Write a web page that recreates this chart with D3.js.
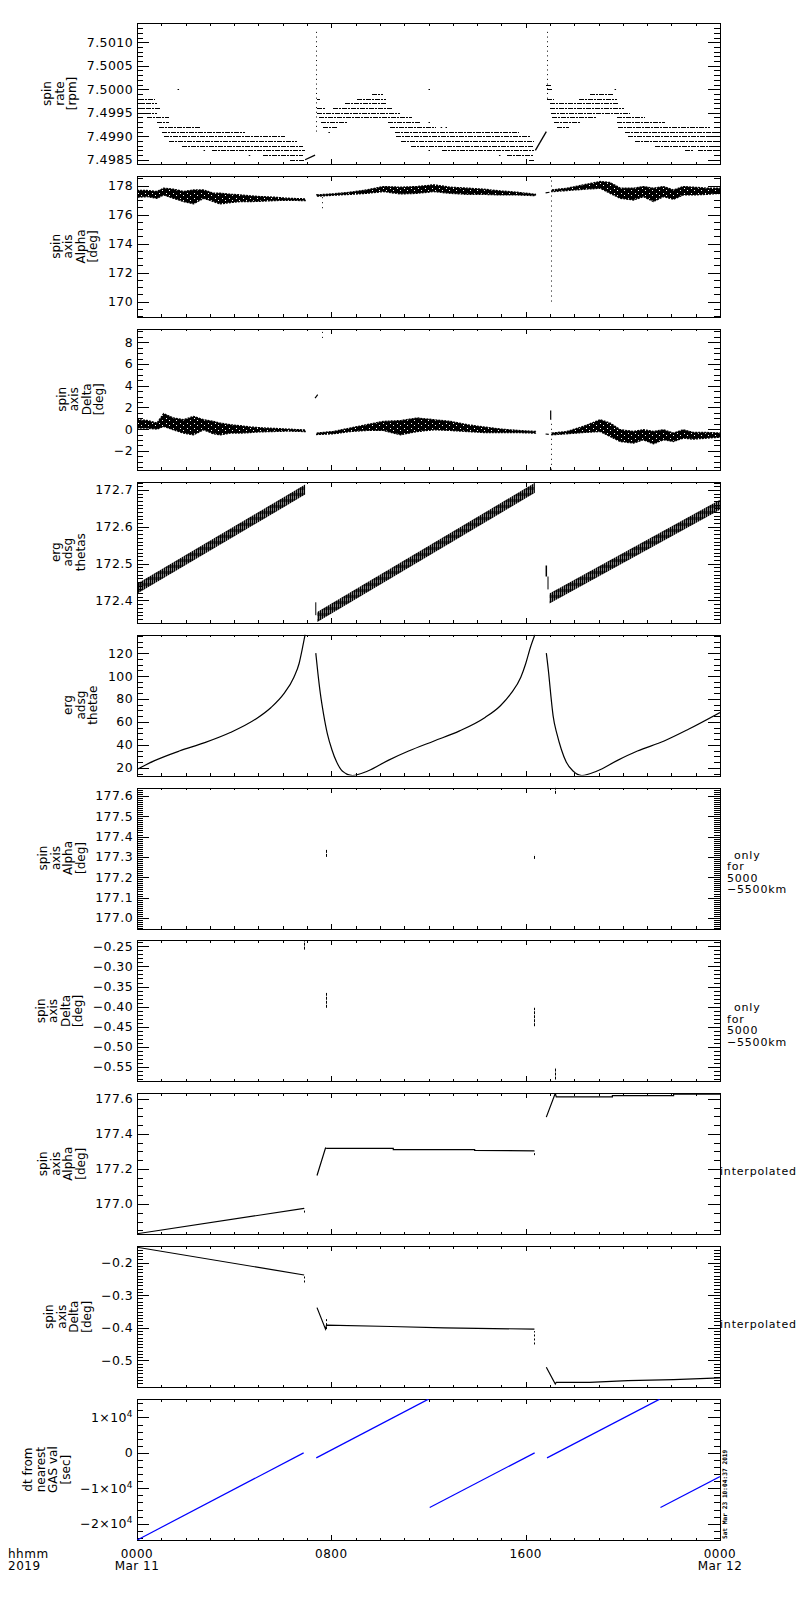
<!DOCTYPE html>
<html>
<head>
<meta charset="utf-8">
<script src="https://cdn.jsdelivr.net/npm/d3@7/dist/d3.min.js"></script>
<style>
    body { margin: 0; background: #fff; }
    svg text { font-family: "DejaVu Sans", sans-serif; fill: #000; }
</style>
</head>
<body>
<div id="chart"></div>
<script>
// hours after 0000 UT, Mar 11 2019
var hourTicks = [0, 8, 16, 24],
    hourLabels = [["0000", "Mar 11"], ["0800"], ["1600"], ["0000", "Mar 12"]];

// ---- panel 1: spin rate [rpm], quantized levels [level, hStart, hEnd]
var rateTicks = [7.4985, 7.4990, 7.4995, 7.5000, 7.5005, 7.5010];
var rateRows = [
    [7.4998, 0.07, 0.75], [7.4997, 0.00, 0.82], [7.4996, 0.00, 0.93], [7.4995, 0.00, 0.82],
    [7.4994, 0.41, 1.30], [7.4993, 0.82, 1.30], [7.4992, 0.89, 2.60], [7.4991, 1.03, 4.45],
    [7.4990, 1.10, 6.10], [7.4989, 1.30, 6.58], [7.4988, 1.85, 6.85], [7.4987, 3.08, 6.92],
    [7.4986, 5.20, 6.85], [7.4985, 6.30, 6.92],
    [7.4999, 9.66, 10.14], [7.4998, 7.40, 7.53], [7.4998, 9.04, 10.27], [7.4997, 8.56, 10.27],
    [7.4996, 7.40, 7.73], [7.4996, 8.08, 10.55], [7.4995, 7.40, 10.82], [7.4994, 7.51, 11.33],
    [7.4993, 7.58, 8.63], [7.4993, 10.34, 11.67], [7.4992, 7.67, 8.22], [7.4992, 10.41, 12.29],
    [7.4991, 10.62, 15.71], [7.4990, 10.68, 16.19], [7.4989, 10.85, 16.33], [7.4988, 11.26, 16.33],
    [7.4987, 12.56, 16.33], [7.4986, 15.23, 16.33], [7.4985, 16.12, 16.33],
    [7.5001, 16.85, 17.08], [7.5000, 16.88, 17.08], [7.4999, 18.66, 19.62], [7.4998, 16.88, 17.15],
    [7.4998, 18.18, 19.75], [7.4997, 16.99, 19.82], [7.4996, 16.99, 20.03], [7.4995, 17.06, 20.30],
    [7.4994, 17.08, 18.93], [7.4994, 19.75, 20.92], [7.4993, 17.15, 18.25], [7.4993, 19.75, 21.74],
    [7.4992, 17.29, 17.77], [7.4992, 19.82, 23.59], [7.4991, 20.10, 24.00], [7.4990, 20.23, 24.00],
    [7.4989, 20.51, 24.00], [7.4988, 21.33, 24.00], [7.4987, 22.56, 22.90], [7.4987, 23.11, 24.00]
];
var rateDots = [[1.67, 7.5000], [12.0, 7.5000], [19.66, 7.5000], [2.74, 7.4987], [4.6, 7.4986],
    [7.88, 7.4991], [12.0, 7.4987], [12.0, 7.4993], [14.9, 7.4986], [12.5, 7.4992], [12.7, 7.4992]];
var rateSpikes = [[7.37, 7.4991, 7.5013], [16.88, 7.4998, 7.5013]];
var rateRamps = [[[6.92, 7.4985], [7.33, 7.4986]], [[16.40, 7.4987], [16.85, 7.4991]]];

// ---- panel 2: spin axis alpha [deg], band [h, lo, hi]
var alphaTicks = [170, 172, 174, 176, 178];
var alphaBands = [
    [[0, 177.20, 177.66], [0.41, 177.24, 177.66], [0.82, 177.13, 177.59], [1.10, 177.36, 177.82],
     [1.50, 177.13, 177.75], [1.92, 176.90, 177.59], [2.33, 176.74, 177.70], [2.74, 177.13, 177.70],
     [3.15, 176.90, 177.47], [3.42, 176.74, 177.47], [3.84, 176.83, 177.40], [4.25, 176.90, 177.36],
     [4.66, 176.90, 177.29], [5.07, 176.92, 177.24], [5.62, 176.97, 177.20], [6.16, 176.99, 177.13],
     [6.92, 176.97, 177.08]],
    [[7.40, 177.27, 177.36], [8.08, 177.34, 177.43], [8.77, 177.40, 177.54], [9.45, 177.47, 177.70],
     [10.14, 177.59, 177.93], [10.85, 177.43, 177.89], [11.53, 177.47, 177.93], [12.22, 177.59, 178.05],
     [12.90, 177.47, 177.89], [13.60, 177.40, 177.82], [14.27, 177.40, 177.75], [14.96, 177.36, 177.63],
     [15.64, 177.36, 177.54], [16.40, 177.31, 177.40]],
    [[17.08, 177.59, 177.70], [17.70, 177.66, 177.82], [18.38, 177.75, 178.05], [19.07, 177.82, 178.28],
     [19.48, 177.47, 178.21], [19.89, 177.13, 177.82], [20.44, 177.01, 177.82], [20.85, 177.24, 177.93],
     [21.26, 176.90, 177.82], [21.67, 177.24, 177.93], [22.08, 177.06, 177.70], [22.49, 177.36, 177.93],
     [22.90, 177.36, 177.89], [23.45, 177.40, 177.82], [24.00, 177.47, 177.82]]
];
var alphaSpikes = [[7.60, 176.44, 177.36], [17.05, 170.0, 178.62]];
var alphaDashes = [[[16.82, 177.50], [16.98, 177.54]]];

// ---- panel 3: spin axis delta [deg]
var deltaTicks = [-2, 0, 2, 4, 6, 8];
var deltaBands = [
    [[0, 0.09, 0.86], [0.41, 0.09, 0.80], [0.82, 0.00, 0.55], [1.10, 0.25, 1.42], [1.50, -0.06, 1.02],
     [1.92, -0.37, 0.86], [2.33, -0.52, 1.17], [2.74, -0.06, 0.86], [3.15, -0.43, 0.71], [3.42, -0.52, 0.55],
     [3.84, -0.37, 0.40], [4.25, -0.37, 0.31], [4.66, -0.31, 0.19], [5.07, -0.25, 0.12], [5.62, -0.22, 0.06],
     [6.16, -0.18, 0.00], [6.92, -0.22, -0.09]],
    [[7.40, -0.49, -0.37], [8.08, -0.43, -0.22], [8.77, -0.22, 0.09], [9.45, -0.12, 0.40], [10.14, -0.12, 0.71],
     [10.85, -0.52, 0.78], [11.53, -0.22, 1.02], [12.22, -0.06, 0.86], [12.90, -0.12, 0.71], [13.60, -0.22, 0.40],
     [14.27, -0.31, 0.19], [14.96, -0.31, 0.00], [15.64, -0.31, -0.12], [16.40, -0.37, -0.22]],
    [[17.08, -0.52, -0.37], [17.70, -0.43, -0.22], [18.38, -0.31, 0.25], [19.07, -0.22, 0.86], [19.48, -0.68, 0.55],
     [19.89, -1.14, -0.06], [20.44, -1.29, -0.22], [20.85, -0.98, -0.06], [21.26, -1.35, -0.22], [21.67, -0.98, -0.06],
     [22.08, -1.14, -0.37], [22.49, -0.83, -0.06], [22.90, -0.92, -0.31], [23.45, -0.83, -0.31], [24.00, -0.74, -0.37]]
];
var deltaSpikes = [[7.60, 8.40, 9.02], [17.03, -3.75, 0.86]];
var deltaDashes = [[[7.33, 2.86], [7.44, 3.17]], [[16.82, -0.45], [16.95, -0.49]], [[17.03, 0.86], [17.03, 1.72]]];

// ---- panel 4: erg adsg thetas, band centre [[h0, v0], [h1, v1]]
var thetasTicks = [172.4, 172.5, 172.6, 172.7];
var thetasSegs = [
    [[0, 172.432], [6.92, 172.701]],
    [[7.42, 172.355], [16.38, 172.706]],
    [[16.98, 172.405], [24, 172.660]]
];
var thetasMarks = [[7.36, 172.36, 172.395, 1], [16.85, 172.465, 172.495, 1.5], [16.92, 172.43, 172.465, 1]];

// ---- panel 5: erg adsg thetae
var thetaeTicks = [20, 40, 60, 80, 100, 120];
var thetaeLines = [
    [[0, 18.6], [0.7, 26.0], [1.74, 34.6], [2.79, 41.9], [3.84, 50.7], [4.89, 62.5], [5.52, 72.6],
     [6.04, 84.4], [6.46, 98.9], [6.67, 110.7], [6.82, 125.3], [6.92, 136]],
    [[7.36, 120], [7.45, 101.9], [7.55, 84.4], [7.68, 66.8], [7.84, 49.3], [8.02, 36], [8.22, 25],
     [8.45, 17.2], [8.87, 13.3], [9.5, 17.2], [10.34, 26.5], [11.18, 34.6], [12.23, 43.4], [13.28, 52.2],
     [14.33, 63.9], [14.96, 74.1], [15.38, 84.4], [15.8, 98.9], [16.0, 110.7], [16.2, 125.3], [16.38, 136]],
    [[16.85, 120], [16.95, 101.9], [17.03, 84.4], [17.13, 65.3], [17.29, 49.3], [17.47, 36], [17.67, 25],
     [17.95, 17.2], [18.31, 13.3], [18.94, 17.2], [19.78, 26.5], [20.6, 34.6], [21.7, 43.4], [22.7, 53.6],
     [24, 68.2]]
];

// ---- panel 6/7: only for 5000-5500km, short marks [h, v0, v1]
var alphaKmTicks = [177.0, 177.1, 177.2, 177.3, 177.4, 177.5, 177.6];
var alphaKmMarks = [[7.76, 177.300, 177.336], [16.36, 177.290, 177.310], [17.22, 177.610, 177.640]];
var deltaKmTicks = [-0.55, -0.50, -0.45, -0.40, -0.35, -0.30, -0.25];
var deltaKmMarks = [[6.88, -0.258, -0.233], [7.76, -0.403, -0.366], [16.36, -0.449, -0.403], [17.22, -0.582, -0.552]];

// ---- panel 8/9: interpolated
var alphaIntTicks = [177.0, 177.2, 177.4, 177.6];
var alphaIntLines = [
    [[0, 176.830], [6.88, 176.975]],
    [[7.41, 177.163], [7.76, 177.320], [7.82, 177.317], [10.55, 177.317], [10.55, 177.311],
     [13.90, 177.311], [13.90, 177.306], [16.36, 177.303]],
    [[16.85, 177.496], [17.22, 177.632], [17.26, 177.612], [19.57, 177.612], [19.57, 177.619],
     [22.09, 177.619], [22.09, 177.627], [24, 177.627]]
];
var alphaIntMarks = [[6.88, 176.951, 176.975], [16.36, 177.279, 177.303]];
var deltaIntTicks = [-0.5, -0.4, -0.3, -0.2];
var deltaIntLines = [
    [[0, -0.153], [6.88, -0.238]],
    [[7.41, -0.338], [7.76, -0.404], [7.80, -0.392], [10.45, -0.396], [12.65, -0.400], [16.36, -0.404]],
    [[16.85, -0.521], [17.22, -0.572], [17.26, -0.567], [18.63, -0.567], [20.20, -0.562], [22.09, -0.559],
     [24, -0.5535]]
];
var deltaIntMarks = [[6.88, -0.261, -0.238], [7.76, -0.404, -0.369], [16.36, -0.451, -0.410]];

// ---- panel 10: dt from nearest GAS val [sec]
var dtTicks = [-20000, -10000, 0, 10000];
var dtLines = [
    [[0, -24620], [6.86, 0]],
    [[7.38, -1415], [12.0, 15170]],
    [[12.05, -15400], [16.37, 0]],
    [[16.88, -1415], [21.52, 15170]],
    [[21.55, -15400], [24, -6710]]
];

var WIDTH = 800, HEIGHT = 1600,
    LEFT = 137, RIGHT = 720,
    TOP0 = 23, STEP = 152.9, PH = 141;

var svg = d3.select("#chart").append("svg")
    .attr("width", WIDTH)
    .attr("height", HEIGHT);

var defs = svg.append("defs");
// speckled fill for the noisy attitude bands
var speck = defs.append("pattern").attr("id", "speck")
    .attr("patternUnits", "userSpaceOnUse").attr("width", 7).attr("height", 5);
speck.append("rect").attr("width", 7).attr("height", 5).attr("fill", "#000");
[[1, 0], [5, 3]].forEach(function(p) {
    speck.append("rect").attr("x", p[0]).attr("y", p[1]).attr("width", 1).attr("height", 1).attr("fill", "#fff");
});
// vertical hatching for thetas
var hatch = defs.append("pattern").attr("id", "hatch")
    .attr("patternUnits", "userSpaceOnUse").attr("width", 2).attr("height", 6);
hatch.append("rect").attr("width", 1.5).attr("height", 6).attr("fill", "#000");
hatch.append("rect").attr("x", 1.5).attr("y", 1).attr("width", 0.5).attr("height", 3).attr("fill", "#000");

var x = d3.scaleLinear().domain([0, 24]).range([LEFT, RIGHT]);

function DrawPanel(i, cfg) {
    var top = TOP0 + STEP * i,
        bottom = top + PH,
        y = d3.scaleLinear().domain(cfg.domain).range([bottom, top]),
        g = svg.append("g");

    g.append("clipPath").attr("id", "clip" + i)
        .append("rect")
        .attr("x", LEFT).attr("y", top)
        .attr("width", RIGHT - LEFT).attr("height", PH);

    var s = cfg.minor,
        minor = d3.range(Math.ceil(cfg.domain[0] / s - 1e-6), Math.floor(cfg.domain[1] / s + 1e-6) + 1)
            .map(function(k) { return k * s; });

    function strip(a) { a.select(".domain").remove(); }

    g.append("g").attr("transform", "translate(" + LEFT + ",0)")
        .call(d3.axisLeft(y).tickValues(minor).tickSize(-6).tickFormat("")).call(strip);
    g.append("g").attr("transform", "translate(" + RIGHT + ",0)")
        .call(d3.axisRight(y).tickValues(minor).tickSize(-6).tickFormat("")).call(strip);
    g.append("g").attr("transform", "translate(" + RIGHT + ",0)")
        .call(d3.axisRight(y).tickValues(cfg.ticks).tickSize(-12).tickFormat("")).call(strip);
    var yl = g.append("g").attr("transform", "translate(" + LEFT + ",0)")
        .call(d3.axisLeft(y).tickValues(cfg.ticks).tickSizeInner(-12).tickSizeOuter(0)
            .tickPadding(4).tickFormat(cfg.fmt)).call(strip);
    yl.attr("font-family", null).attr("font-size", null);
    yl.selectAll("text").attr("font-size", 12.5).style("letter-spacing", "0.4px");

    if (cfg.sci) {
        yl.selectAll(".tick text").each(function(d) {
            var t = d3.select(this).text(null);
            if (d === 0) { t.text("0"); return; }
            t.append("tspan").text((d < 0 ? "\u2212" : "") + Math.abs(d / 10000) + "\u00d710");
            t.append("tspan").attr("dy", "-0.55em").attr("font-size", 9).text("4");
        });
    }

    var hoursAll = d3.range(0, 25);
    [[d3.axisTop, top], [d3.axisBottom, bottom]].forEach(function(a) {
        g.append("g").attr("transform", "translate(0," + a[1] + ")")
            .call(a[0](x).tickValues(hoursAll).tickSize(-2.5).tickFormat("")).call(strip);
        g.append("g").attr("transform", "translate(0," + a[1] + ")")
            .call(a[0](x).tickValues(hourTicks).tickSize(-5).tickFormat("")).call(strip);
    });

    g.selectAll("line").attr("shape-rendering", "crispEdges");

    g.append("rect")
        .attr("x", LEFT + 0.5).attr("y", Math.round(top) + 0.5)
        .attr("width", RIGHT - LEFT).attr("height", PH)
        .attr("fill", "none").attr("stroke", "#000")
        .attr("shape-rendering", "crispEdges");

    // y title, lines stacked left to right
    var minLeft = d3.min(yl.selectAll(".tick text").nodes(), function(n) { return LEFT + n.getBBox().x; });
    var n = cfg.lines.length,
        lastBase = minLeft - 10.5,
        title = g.append("text")
            .attr("transform", "translate(" + (lastBase - (n - 1) * 12.5) + "," + (top + PH / 2) + ") rotate(-90)")
            .attr("text-anchor", "middle")
            .attr("font-size", 12);
    cfg.lines.forEach(function(s, j) {
        title.append("tspan").attr("x", 0).attr("y", j * 12.5).text(s);
    });

    if (cfg.note) {
        var note = g.append("text").attr("font-size", 11).style("letter-spacing", "0.8px");
        cfg.note.forEach(function(s, j) {
            note.append("tspan")
                .attr("x", cfg.noteX[j])
                .attr("y", top + PH / 2 + cfg.noteY + j * 11.5)
                .text(s);
        });
    }

    var plot = g.append("g").attr("clip-path", "url(#clip" + i + ")");
    return {y: y, plot: plot, top: top, bottom: bottom};
}

var fmtInt = d3.format("d"), fmt1 = d3.format(".1f"), fmt2 = d3.format(".2f"), fmt4 = d3.format(".4f");
var kmNote = ["only", "for", "5000", "\u22125500km"], kmX = [734, 727, 727, 727];

var panels = [
    {lines: ["spin", "rate", "[rpm]"], domain: [7.49841, 7.50141], ticks: rateTicks, minor: 0.0001, fmt: fmt4},
    {lines: ["spin", "axis", "Alpha", "[deg]"], domain: [168.94, 178.67], ticks: alphaTicks, minor: 0.5, fmt: fmtInt},
    {lines: ["spin", "axis", "Delta", "[deg]"], domain: [-3.75, 9.24], ticks: deltaTicks, minor: 0.5, fmt: fmtInt},
    {lines: ["erg", "adsg", "thetas"], domain: [172.3396, 172.7225], ticks: thetasTicks, minor: 0.01, fmt: fmt1},
    {lines: ["erg", "adsg", "thetae"], domain: [13.2, 136.1], ticks: thetaeTicks, minor: 5, fmt: fmtInt},
    {lines: ["spin", "axis", "Alpha", "[deg]"], domain: [176.948, 177.641], ticks: alphaKmTicks, minor: 0.01, fmt: fmt1,
        note: kmNote, noteX: kmX, noteY: 0.5},
    {lines: ["spin", "axis", "Delta", "[deg]"], domain: [-0.5866, -0.235], ticks: deltaKmTicks, minor: 0.01, fmt: fmt2,
        note: kmNote, noteX: kmX, noteY: 0.5},
    {lines: ["spin", "axis", "Alpha", "[deg]"], domain: [176.827, 177.632], ticks: alphaIntTicks, minor: 0.05, fmt: fmt1,
        note: ["interpolated"], noteX: [720], noteY: 11.5},
    {lines: ["spin", "axis", "Delta", "[deg]"], domain: [-0.582, -0.1498], ticks: deltaIntTicks, minor: 0.01, fmt: fmt1,
        note: ["interpolated"], noteX: [720], noteY: 11.5},
    {lines: ["dt from", "nearest", "GAS val", "[sec]"], domain: [-24620, 15170], ticks: dtTicks, minor: 2000, fmt: fmtInt, sci: true}
];

var P = panels.map(function(cfg, i) { return DrawPanel(i, cfg); });

function px(v) { return Math.round(v) + 0.5; }

function DrawRate(p) {
    p.plot.selectAll(".row").data(rateRows).enter().append("line")
        .attr("x1", function(d) { return x(d[1]); })
        .attr("x2", function(d) { return x(d[2]); })
        .attr("y1", function(d) { return px(p.y(d[0])); })
        .attr("y2", function(d) { return px(p.y(d[0])); })
        .attr("stroke", "#000")
        .attr("stroke-dasharray", "5,1,2,1")
        .attr("shape-rendering", "crispEdges");
    p.plot.selectAll(".dot").data(rateDots).enter().append("rect")
        .attr("x", function(d) { return x(d[0]); })
        .attr("y", function(d) { return Math.round(p.y(d[1])); })
        .attr("width", 1.5).attr("height", 1).attr("fill", "#000");
    p.plot.selectAll(".spike").data(rateSpikes).enter().append("line")
        .attr("x1", function(d) { return px(x(d[0])); })
        .attr("x2", function(d) { return px(x(d[0])); })
        .attr("y1", function(d) { return p.y(d[1]); })
        .attr("y2", function(d) { return p.y(d[2]); })
        .attr("stroke", "#000").attr("stroke-dasharray", "1,3.7");
    var line = d3.line().x(function(d) { return x(d[0]); }).y(function(d) { return p.y(d[1]); });
    p.plot.selectAll(".ramp").data(rateRamps).enter().append("path")
        .attr("d", line).attr("fill", "none").attr("stroke", "#000").attr("stroke-width", 1.3);
}

function DrawBands(p, bands, spikes, dashes) {
    var area = d3.area()
        .x(function(d) { return x(d[0]); })
        .y0(function(d) { return p.y(d[1]); })
        .y1(function(d) { return p.y(d[2]); });
    p.plot.selectAll(".band").data(bands).enter().append("path")
        .attr("d", area).attr("fill", "url(#speck)")
        .attr("stroke", "#000").attr("stroke-width", 1.4).attr("stroke-dasharray", "2,1");
    p.plot.selectAll(".spike").data(spikes).enter().append("line")
        .attr("x1", function(d) { return px(x(d[0])); })
        .attr("x2", function(d) { return px(x(d[0])); })
        .attr("y1", function(d) { return p.y(d[1]); })
        .attr("y2", function(d) { return p.y(d[2]); })
        .attr("stroke", "#000").attr("stroke-dasharray", "1,4");
    var line = d3.line().x(function(d) { return x(d[0]); }).y(function(d) { return p.y(d[1]); });
    p.plot.selectAll(".dash").data(dashes).enter().append("path")
        .attr("d", line).attr("fill", "none").attr("stroke", "#000").attr("stroke-width", 1.2);
}

function DrawThetas(p) {
    var half = 5;
    var area = d3.area()
        .x(function(d) { return x(d[0]); })
        .y0(function(d) { return p.y(d[1]) + half; })
        .y1(function(d) { return p.y(d[1]) - half; });
    p.plot.selectAll(".band").data(thetasSegs).enter().append("path")
        .attr("d", area).attr("fill", "url(#hatch)");
    p.plot.selectAll(".mark").data(thetasMarks).enter().append("line")
        .attr("x1", function(d) { return x(d[0]); })
        .attr("x2", function(d) { return x(d[0]); })
        .attr("y1", function(d) { return p.y(d[1]); })
        .attr("y2", function(d) { return p.y(d[2]); })
        .attr("stroke", "#000").attr("stroke-width", function(d) { return d[3]; });
}

function DrawLines(p, lines, color, curve) {
    var line = d3.line()
        .x(function(d) { return x(d[0]); })
        .y(function(d) { return p.y(d[1]); });
    if (curve) line.curve(curve);
    p.plot.selectAll(".ln").data(lines).enter().append("path")
        .attr("d", line).attr("fill", "none")
        .attr("stroke", color).attr("stroke-width", 1.2);
}

function DrawMarks(p, marks, dash) {
    p.plot.selectAll(".mk").data(marks).enter().append("line")
        .attr("x1", function(d) { return px(x(d[0])); })
        .attr("x2", function(d) { return px(x(d[0])); })
        .attr("y1", function(d) { return p.y(d[1]); })
        .attr("y2", function(d) { return p.y(d[2]); })
        .attr("stroke", "#000").attr("stroke-dasharray", dash);
}

DrawRate(P[0]);
DrawBands(P[1], alphaBands, alphaSpikes, alphaDashes);
DrawBands(P[2], deltaBands, deltaSpikes, deltaDashes);
DrawThetas(P[3]);
DrawLines(P[4], thetaeLines, "#000", d3.curveMonotoneX);
DrawMarks(P[5], alphaKmMarks, "3,1");
DrawMarks(P[6], deltaKmMarks, "3,1");
DrawLines(P[7], alphaIntLines, "#000");
DrawMarks(P[7], alphaIntMarks, "2,2");
DrawLines(P[8], deltaIntLines, "#000");
DrawMarks(P[8], deltaIntMarks, "2,2");
DrawLines(P[9], dtLines, "#0000ff");

// time axis labels under the last panel
var last = P[P.length - 1];
hourTicks.forEach(function(h, k) {
    hourLabels[k].forEach(function(s, j) {
        svg.append("text").attr("text-anchor", "middle").attr("font-size", 12)
            .style("letter-spacing", "0.5px")
            .attr("x", x(h)).attr("y", last.bottom + 17.5 + j * 12.8).text(s);
    });
});
["hhmm", "2019"].forEach(function(s, j) {
    svg.append("text").attr("font-size", 12).style("letter-spacing", "0.5px")
        .attr("x", 8).attr("y", last.bottom + 17.5 + j * 12.8).text(s);
});

svg.append("text")
    .attr("transform", "translate(727," + (last.bottom - 1) + ") rotate(-90)")
    .attr("font-size", 6.2)
    .attr("font-weight", "bold")
    .style("font-family", "'DejaVu Sans Mono', monospace")
    .text("Sat Mar 23 10:04:37 2019");
</script>
</body>
</html>
